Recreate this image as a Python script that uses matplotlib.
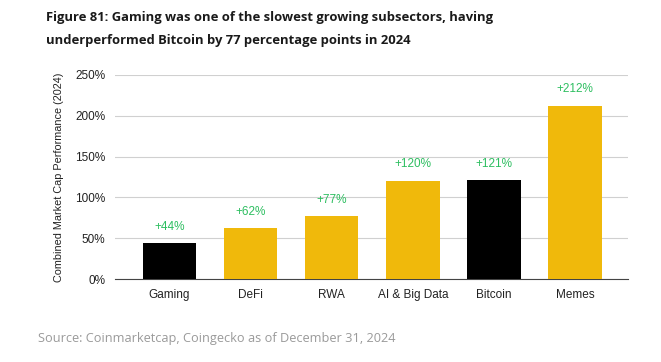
import matplotlib
matplotlib.use('Agg')
import matplotlib.pyplot as plt

categories = ['Gaming', 'DeFi', 'RWA', 'AI & Big Data', 'Bitcoin', 'Memes']
values = [44, 62, 77, 120, 121, 212]
labels = ['+44%', '+62%', '+77%', '+120%', '+121%', '+212%']
bar_colors = ['#000000', '#F0B90B', '#F0B90B', '#F0B90B', '#000000', '#F0B90B']
yticks = [0, 50, 100, 150, 200, 250]

fig = plt.figure(figsize=(6.61, 3.62), dpi=100)
ax = fig.add_axes([0.174, 0.229, 0.776, 0.564])

x = list(range(len(categories)))
ax.bar(x, values, width=0.66, color=bar_colors, zorder=3)
for xi, v, lab in zip(x, values, labels):
    ax.text(xi, v + 13, lab, ha='center', va='bottom', color='#2DBE60',
            fontsize=8.5, family='Liberation Sans')

ax.set_xlim(-0.67, 5.65)
ax.set_ylim(0, 250)
ax.set_yticks(yticks)
ax.set_yticklabels([f'{t}%' for t in yticks], family='Liberation Sans', fontsize=8.5, color='#222222')
ax.set_xticks(x)
ax.set_xticklabels(categories, family='Liberation Sans', fontsize=8.5, color='#222222')
ax.grid(axis='y', color='#d0d0d0', linewidth=0.8, zorder=0)
for s in ['top', 'right', 'left']:
    ax.spines[s].set_visible(False)
ax.spines['bottom'].set_color('#444444')
ax.spines['bottom'].set_linewidth(0.8)
ax.tick_params(axis='both', length=0, pad=7)
ax.set_ylabel('Combined Market Cap Performance (2024)', family='Liberation Sans',
              fontsize=7.8, color='#222222', labelpad=8)

fig.text(0.07, 0.953, 'Figure 81: Gaming was one of the slowest growing subsectors, having',
         fontsize=9.4, fontweight='bold', family='Open Sans', color='#1a1a1a', va='center')
fig.text(0.07, 0.889, 'underperformed Bitcoin by 77 percentage points in 2024',
         fontsize=9.4, fontweight='bold', family='Open Sans', color='#1a1a1a', va='center')
fig.text(0.057, 0.065, 'Source: Coinmarketcap, Coingecko as of December 31, 2024',
         fontsize=9.2, family='Open Sans', color='#9a9a9a', va='center')

fig.savefig('out.png', dpi=100)
